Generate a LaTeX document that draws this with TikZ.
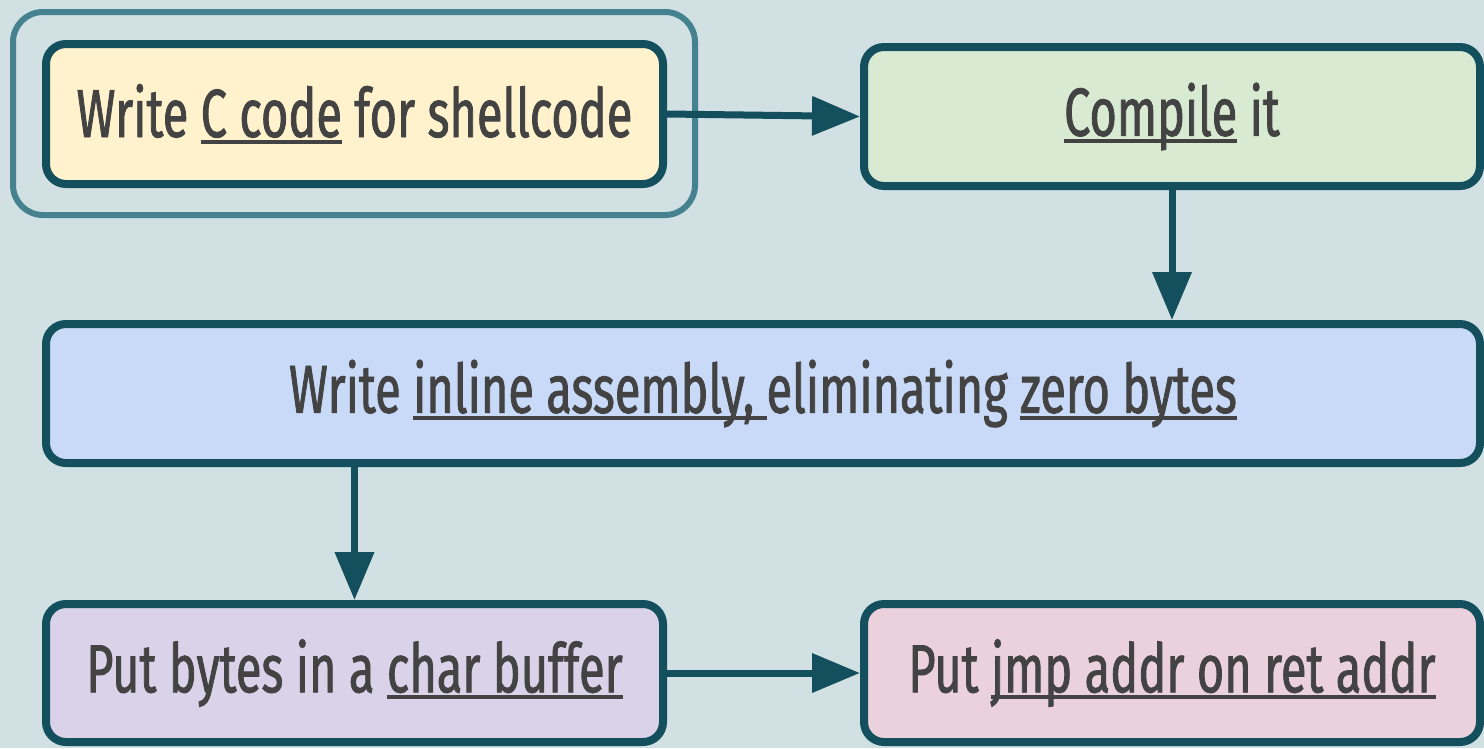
\documentclass[tikz,border=0pt]{standalone}
\usepackage{fontspec}
\setmainfont[FakeStretch=0.69, FakeBold=1.2]{Fira Sans}
\usetikzlibrary{arrows.meta}
\definecolor{bgc}{HTML}{D0E0E3}
\definecolor{outc}{HTML}{45818E}
\definecolor{boxc}{HTML}{134F5C}
\definecolor{txtc}{HTML}{434343}
\definecolor{fyellow}{HTML}{FFF2CC}
\definecolor{fgreen}{HTML}{D9EAD3}
\definecolor{fblue}{HTML}{C9DAF8}
\definecolor{fpurple}{HTML}{D9D2E9}
\definecolor{fpink}{HTML}{EAD1DC}
\newcommand\ulx[1]{\setbox0\hbox{#1}\rlap{\color{txtc}\rule[-7pt]{\wd0}{4pt}}\box0\relax}
\tikzset{
  stepbox/.style={draw=boxc, line width=8pt, rounded corners=20pt, inner sep=0pt,
    text=txtc, font=\fontsize{68}{74}\selectfont, align=center},
  flow/.style={draw=boxc, line width=7pt, -{Triangle[length=48pt,width=38pt]}},
}
\begin{document}
\begin{tikzpicture}[x=1pt,y=-1pt]
\useasboundingbox[fill=bgc] (0,0) rectangle (1484,748);
\node[draw=outc, line width=6pt, rounded corners=30pt, minimum width=682pt, minimum height=203pt] (hl) at (354,113.5) {};
\node[stepbox, fill=fyellow, minimum width=617pt, minimum height=140pt] (b1) at (354.5,114) {Write \ulx{C code} for shellcode};
\node[stepbox, fill=fgreen, minimum width=616pt, minimum height=139pt] (b2) at (1172,116.5) {\ulx{Compile} it};
\node[stepbox, fill=fblue, minimum width=1434pt, minimum height=139pt] (b3) at (763,393.5) {Write \ulx{inline assembly, }eliminating \ulx{zero bytes}};
\node[stepbox, fill=fpurple, minimum width=617pt, minimum height=138pt] (b4) at (354.5,673) {Put bytes in a \ulx{char buffer}};
\node[stepbox, fill=fpink, minimum width=616pt, minimum height=138pt] (b5) at (1172,673) {Put \ulx{jmp addr on ret addr}};
\draw[flow] (b1.east) -- (b2.west);
\draw[flow] (b2.south) -- (b2.south |- b3.north);
\draw[flow] (b4.north |- b3.south) -- (b4.north);
\draw[flow] (b4.east) -- (b5.west);
\end{tikzpicture}
\end{document}
